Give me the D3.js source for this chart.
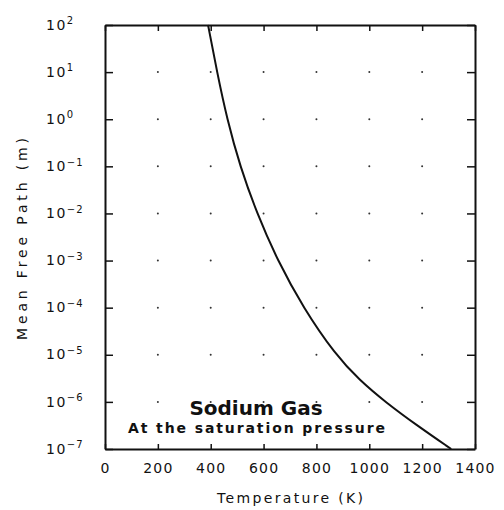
<!DOCTYPE html>
<html lang="en">
<head>
<meta charset="UTF-8">
<title>Sodium Gas Mean Free Path</title>
<script src="https://cdn.jsdelivr.net/npm/d3@7"></script>
<style>
    body { margin: 0; background: #fff; }
    text { font-family: "DejaVu Sans", sans-serif; fill: #111; }
</style>
</head>
<body>
<script>
    // curve: temperature (K) vs mean free path (m)
    var temps = [390, 424, 462, 511, 575, 653, 750, 872, 963, 1060, 1188, 1310];
    var meanFreePath = [1e2, 1e1, 1e0, 1e-1, 1e-2, 1e-3, 1e-4, 1e-5, 2.9e-6, 1e-6, 2.95e-7, 1e-7];
    var xTicks = [0, 200, 400, 600, 800, 1000, 1200, 1400];
    var yExponents = [2, 1, 0, -1, -2, -3, -4, -5, -6, -7];

    var width = 504, height = 510;
    var plot = {left: 105, right: 475, top: 25, bottom: 449};

    var svg = d3.select('body').append('svg')
            .attr('width', width)
            .attr('height', height);

    var x = d3.scaleLinear().domain([0, 1400]).range([plot.left, plot.right]);
    var y = d3.scaleLog().domain([1e-7, 1e2]).range([plot.bottom, plot.top]);

    // faint grid dots at tick crossings
    var dots = [];
    xTicks.slice(1, -1).forEach(function (t) {
        yExponents.slice(1, -1).forEach(function (e) { dots.push([t, Math.pow(10, e)]); });
    });
    svg.append('g').selectAll('circle')
            .data(dots)
            .enter().append('circle')
            .attr('cx', function (d) { return x(d[0]); })
            .attr('cy', function (d) { return y(d[1]); })
            .attr('r', 1)
            .attr('fill', '#333');

    var yVals = yExponents.map(function (e) { return Math.pow(10, e); });

    // left axis, ticks pointing inward
    var left = svg.append('g')
            .attr('transform', 'translate(' + plot.left + ',0)')
            .call(d3.axisLeft(y).tickValues(yVals).tickSize(-8).tickSizeOuter(0).tickFormat(''));
    left.selectAll('.tick').each(function (d) {
        var e = Math.round(Math.log10(d));
        var t = d3.select(this).append('text')
                .attr('x', 46 - plot.left)
                .attr('y', 0)
                .attr('dy', '0.3em')
                .attr('text-anchor', 'start')
                .attr('font-size', 14)
                .attr('letter-spacing', 1.5);
        t.append('tspan').text('10');
        t.append('tspan')
                .attr('dy', '-0.55em')
                .attr('font-size', 10)
                .attr('letter-spacing', 1)
                .text(e < 0 ? '\u2212' + (-e) : e);
    });

    // right axis
    svg.append('g')
            .attr('transform', 'translate(' + plot.right + ',0)')
            .call(d3.axisRight(y).tickValues(yVals).tickSize(-8).tickSizeOuter(0).tickFormat(''));

    // bottom axis with labels
    var bottom = svg.append('g')
            .attr('transform', 'translate(0,' + plot.bottom + ')')
            .call(d3.axisBottom(x).tickValues(xTicks).tickSize(-5).tickSizeOuter(0)
                    .tickPadding(14).tickFormat(d3.format('d')));
    bottom.selectAll('text')
            .attr('font-size', 14)
            .attr('letter-spacing', 1.2)
            .attr('fill', '#111');

    // top axis
    svg.append('g')
            .attr('transform', 'translate(0,' + plot.top + ')')
            .call(d3.axisTop(x).tickValues(xTicks).tickSize(-6).tickSizeOuter(0).tickFormat(''));

    svg.selectAll('.domain').attr('stroke', '#111').attr('stroke-width', 2);
    svg.selectAll('.tick line').attr('stroke', '#111').attr('stroke-width', 1.5);

    // the curve
    var line = d3.line()
            .x(function (d, i) { return x(temps[i]); })
            .y(function (d) { return y(d); })
            .curve(d3.curveBasis);
    svg.append('path')
            .datum(meanFreePath)
            .attr('fill', 'none')
            .attr('stroke', '#111')
            .attr('stroke-width', 2)
            .attr('d', line);

    // notes inside the plot
    svg.append('text')
            .attr('x', 256).attr('y', 415)
            .attr('text-anchor', 'middle')
            .attr('font-family', 'Liberation Sans, Arial, sans-serif')
            .attr('font-size', 20)
            .attr('font-weight', 'bold')
            .text('Sodium Gas');
    svg.append('text')
            .attr('x', 128).attr('y', 433)
            .attr('font-size', 14)
            .attr('font-weight', 'bold')
            .attr('textLength', 257)
            .attr('lengthAdjust', 'spacing')
            .text('At the saturation pressure');

    // axis titles
    svg.append('text')
            .attr('x', 217).attr('y', 503)
            .attr('font-size', 14)
            .attr('textLength', 146)
            .attr('lengthAdjust', 'spacing')
            .text('Temperature (K)');
    svg.append('text')
            .attr('transform', 'translate(27,340) rotate(-90)')
            .attr('font-size', 14)
            .attr('textLength', 202)
            .attr('lengthAdjust', 'spacing')
            .text('Mean Free Path (m)');
</script>
</body>
</html>
